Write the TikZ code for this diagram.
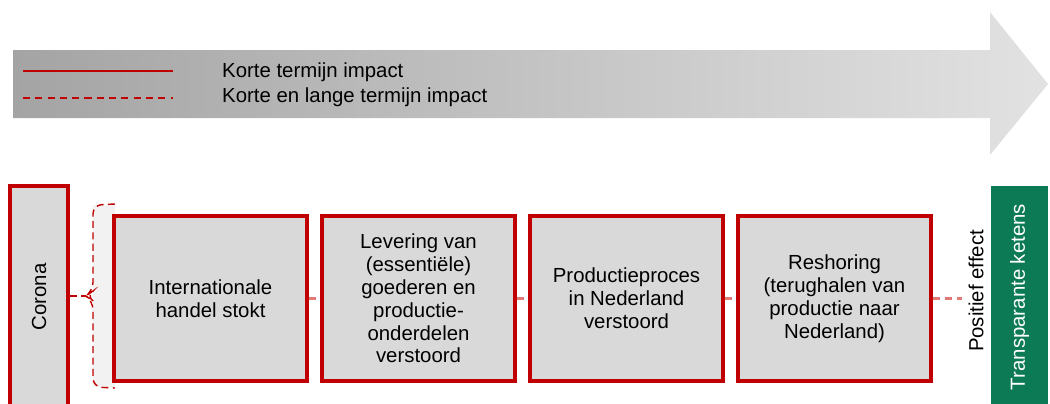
\documentclass[tikz,border=0pt]{standalone}
\usepackage{fontspec}
\setmainfont{Liberation Sans}
\usepackage{xcolor}
\usetikzlibrary{positioning,calc}

\definecolor{boxred}{RGB}{192,0,0}
\definecolor{linkred}{RGB}{226,120,120}
\definecolor{boxgray}{RGB}{217,217,217}
\definecolor{bracegray}{RGB}{242,242,242}
\definecolor{ketengreen}{RGB}{12,122,84}
\definecolor{arrowdark}{RGB}{164,164,164}
\definecolor{arrowlight}{RGB}{226,226,226}

\begin{document}
\begin{tikzpicture}[x=0.02cm, y=-0.02cm,
        txt/.style={font=\fontsize{11.6}{13}\selectfont},
        stage/.style={rectangle, draw=boxred, fill=boxgray, line width=2pt, minimum width=3.86cm, minimum height=3.3cm, align=center, inner sep=2pt, txt},
        side/.style={rectangle, line width=2pt, minimum width=1.16cm, minimum height=4.6cm, inner sep=0pt},
        link/.style={draw=linkred, line width=1.2pt, dash pattern=on 4pt off 3pt},
        bracket/.style={draw=boxred, line width=0.8pt, dash pattern=on 4pt off 2.5pt},
        legendline/.style={draw=boxred, line width=0.9pt}
    ]
    \useasboundingbox (0,0) rectangle (1050,403);

    % Time arrow at top
    \shade[left color=arrowdark, right color=arrowlight]
        (13,50) -- (990,50) -- (990,12) -- (1048,84) -- (990,155) -- (990,118) -- (13,118) -- cycle;

    % Legend
    \coordinate (solidA) at (23,71);
    \coordinate (solidB) at (173,71);
    \coordinate (dashA) at (23,98);
    \coordinate (dashB) at (173,98);
    \draw[legendline] (solidA) -- (solidB);
    \draw[legendline, dash pattern=on 4pt off 3pt] (dashA) -- (dashB);
    \node[txt, anchor=west] (kort) at (216,72) {Korte termijn impact};
    \node[txt, anchor=west] (lang) at (216,97) {Korte en lange termijn impact};

    % Cause and outcome
    \node[side, draw=boxred, fill=boxgray] (corona) at (39,301) {};
    \node[txt, rotate=90] (coronatxt) at (corona.center |- 0,297) {Corona};
    \node[side, fill=ketengreen, minimum width=1.14cm] (green) at (1019.5,301) {};
    \node[txt, rotate=90, text=white] (ketens) at (green.center |- 0,297) {Transparante ketens};

    % Brace round the chain
    \coordinate (bracetip) at (86,296);
    \fill[bracegray] (93,205) rectangle (115,387);
    \draw[bracket, rounded corners=5pt]
        (115,204) -- (93,205) -- (93,291) -- (bracetip) -- (93,301) -- (93,387) -- (115,388);
    \draw[bracket] (corona.east |- bracetip) -- (bracetip);

    % Chain of effects
    \node[stage] (handel) at (210.5,298.5) {Internationale\\handel stokt};
    \node[stage] (levering) at (418.5,298.5) {Levering van\\(essentiële)\\goederen en\\productie-\\onderdelen\\verstoord};
    \node[stage] (proces) at (626.5,298.5) {Productieproces\\in Nederland\\verstoord};
    \node[stage] (reshoring) at (834.5,298.5) {Reshoring\\(terughalen van\\productie naar\\Nederland)};

    \node[txt, rotate=90] (effect) at (976,291) {Positief effect};

    \draw[link] (handel.east) -- (levering.west);
    \draw[link] (levering.east) -- (proces.west);
    \draw[link] (proces.east) -- (reshoring.west);
    \draw[link] (reshoring.east) -- (reshoring.east -| effect.north);

\end{tikzpicture}
\end{document}
